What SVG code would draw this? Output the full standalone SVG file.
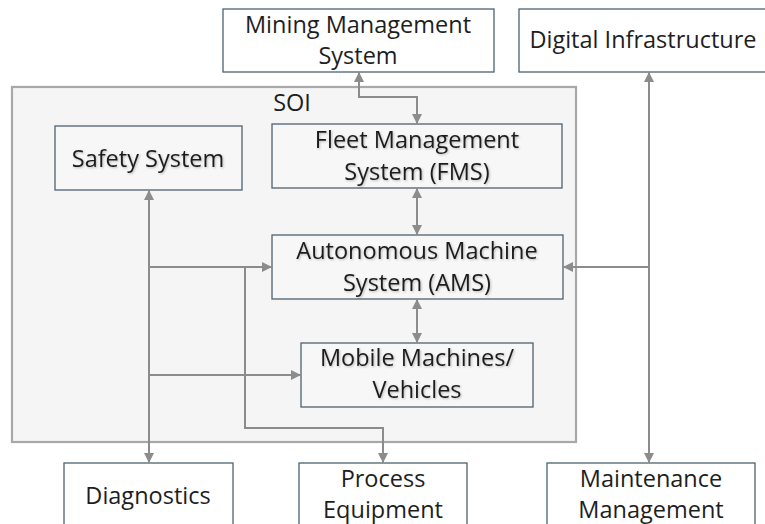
<svg xmlns="http://www.w3.org/2000/svg" width="765" height="524" viewBox="0 0 765 524">
  <defs>
    <marker id="arr" viewBox="0 0 10 10" refX="10" refY="5" markerWidth="5" markerHeight="5" orient="auto-start-reverse" markerUnits="strokeWidth">
      <path d="M0,0 L10,5 L0,10 z" fill="#8c8c8c"/>
    </marker>
    <filter id="soft" x="-5%" y="-20%" width="110%" height="140%">
      <feDropShadow dx="1" dy="1" stdDeviation="0.8" flood-color="#000" flood-opacity="0.25"/>
    </filter>
  </defs>
  <style>
    .box { fill: #ffffff; stroke: #4d6270; stroke-width: 1.3; }
    .inner { fill: #f7f7f7; stroke: #4d6270; stroke-width: 1.3; }
    .soi { fill: #f5f5f5; stroke: #a8a8a8; stroke-width: 2.2; }
    .lbl { font-family: "Open Sans", "Noto Sans", sans-serif; font-size: 23.5px; fill: #1e1e1e; text-anchor: middle; }
    .sh { filter: url(#soft); }
    .wire { fill: none; stroke: #8c8c8c; stroke-width: 2; }
  </style>

  <rect width="765" height="524" fill="#ffffff"/>

  <!-- system of interest boundary -->
  <g id="soi">
    <rect class="soi" x="12" y="87" width="564" height="355"/>
    <text class="lbl" x="292" y="111">SOI</text>
  </g>

  <g id="mining-management">
    <rect class="box" x="223" y="9" width="271" height="63"/>
    <text class="lbl" x="358" y="33">Mining Management</text>
    <text class="lbl" x="358" y="64">System</text>
  </g>

  <g id="digital-infrastructure">
    <rect class="box" x="519" y="9" width="250" height="63"/>
    <text class="lbl" x="643" y="48">Digital Infrastructure</text>
  </g>

  <g id="safety-system">
    <rect class="inner" x="55" y="126" width="187" height="64"/>
    <text class="lbl sh" x="148" y="167">Safety System</text>
  </g>

  <g id="fms">
    <rect class="inner" x="272" y="124" width="290" height="64"/>
    <text class="lbl sh" x="417" y="148">Fleet Management</text>
    <text class="lbl sh" x="417" y="180">System (FMS)</text>
  </g>

  <g id="ams">
    <rect class="inner" x="272" y="235" width="291" height="64"/>
    <text class="lbl sh" x="417" y="259">Autonomous Machine</text>
    <text class="lbl sh" x="417" y="291">System (AMS)</text>
  </g>

  <g id="mobile-machines">
    <rect class="inner" x="301" y="343" width="232" height="64"/>
    <text class="lbl sh" x="417" y="366">Mobile Machines/</text>
    <text class="lbl sh" x="417" y="398">Vehicles</text>
  </g>

  <g id="diagnostics">
    <rect class="box" x="64" y="463" width="169" height="70"/>
    <text class="lbl" x="148" y="504">Diagnostics</text>
  </g>

  <g id="process-equipment">
    <rect class="box" x="299" y="463" width="168" height="70"/>
    <text class="lbl" x="383" y="487">Process</text>
    <text class="lbl" x="383" y="518">Equipment</text>
  </g>

  <g id="maintenance-management">
    <rect class="box" x="547" y="463" width="208" height="70"/>
    <text class="lbl" x="651" y="487">Maintenance</text>
    <text class="lbl" x="651" y="518">Management</text>
  </g>

  <!-- connectors -->
  <g id="connectors">
    <path class="wire" d="M359,72 V97 H417 V124" marker-start="url(#arr)" marker-end="url(#arr)"/>
    <path class="wire" d="M417,188 V235" marker-start="url(#arr)" marker-end="url(#arr)"/>
    <path class="wire" d="M417,299 V343" marker-start="url(#arr)" marker-end="url(#arr)"/>
    <path class="wire" d="M149,190 V463" marker-start="url(#arr)" marker-end="url(#arr)"/>
    <path class="wire" d="M149,267 H272" marker-end="url(#arr)"/>
    <path class="wire" d="M149,375 H301" marker-end="url(#arr)"/>
    <path class="wire" d="M245,267 V428 H383 V463" marker-end="url(#arr)"/>
    <path class="wire" d="M649,72 V463" marker-start="url(#arr)" marker-end="url(#arr)"/>
    <path class="wire" d="M649,267 H563" marker-end="url(#arr)"/>
  </g>
</svg>
